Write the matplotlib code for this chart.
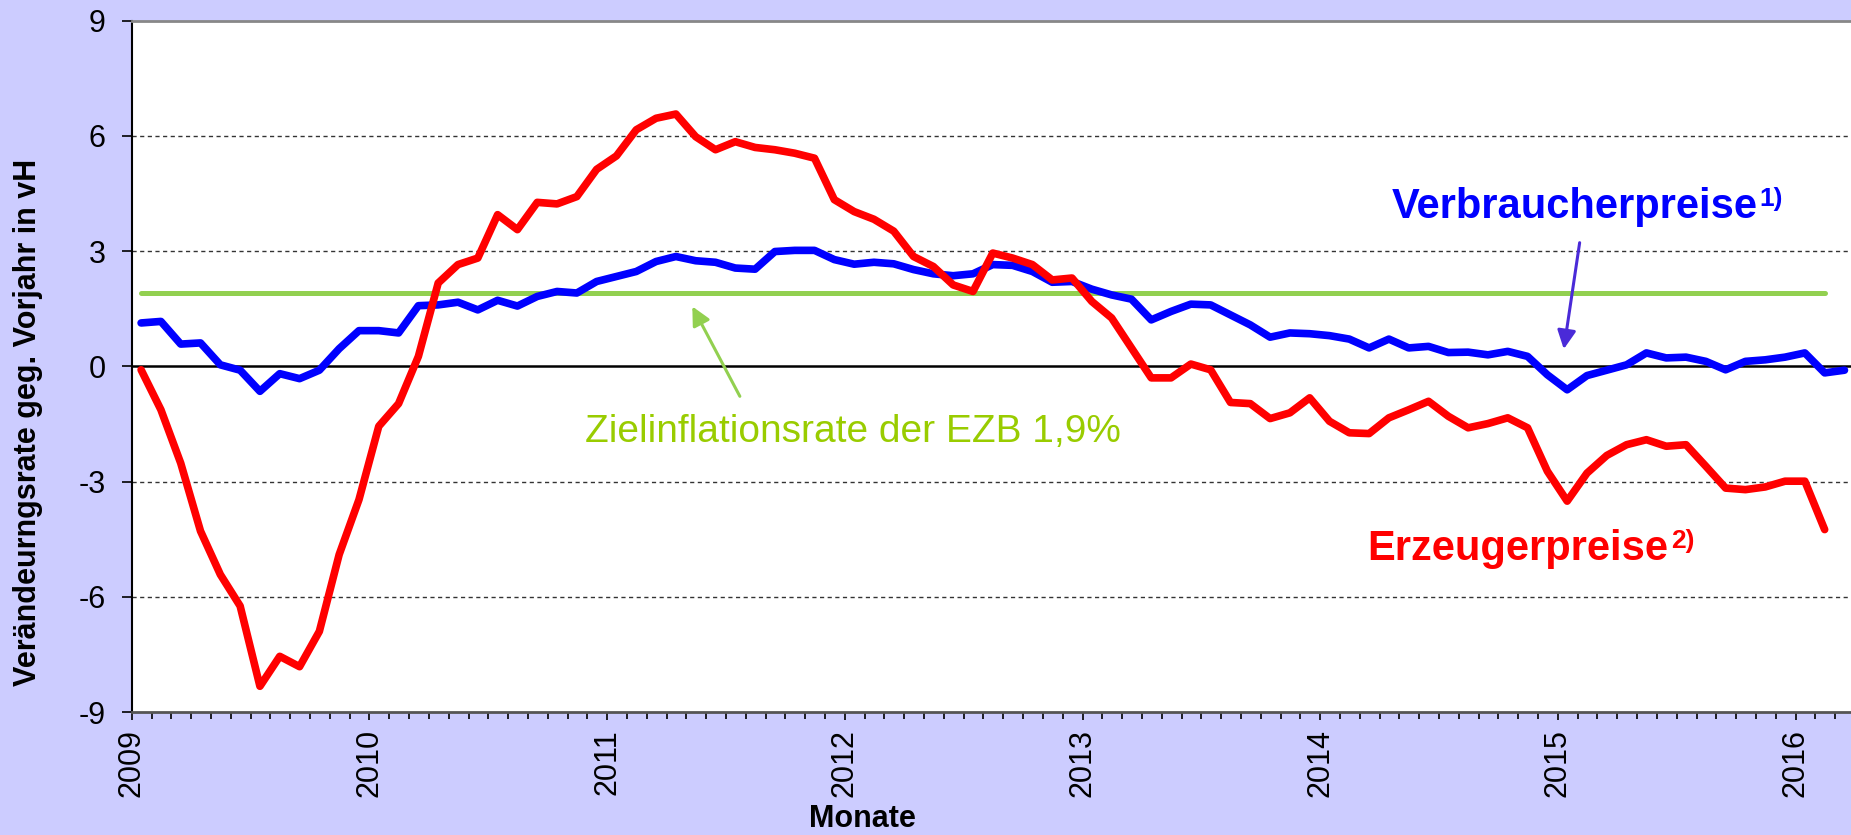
import numpy as np
import matplotlib
matplotlib.use("Agg")
import matplotlib.pyplot as plt
from matplotlib.ticker import FixedLocator, MultipleLocator

plt.rcParams['font.family'] = ['Liberation Sans', 'DejaVu Sans']
plt.rcParams['axes.unicode_minus'] = False

# monthly year-on-year rates, Jan 2009 onwards
verbraucherpreise = [
    1.13, 1.17, 0.58, 0.61, 0.04, -0.10, -0.65, -0.19, -0.32, -0.10, 0.46, 0.93,
    0.93, 0.87, 1.58, 1.60, 1.67, 1.47, 1.72, 1.57, 1.82, 1.95, 1.91, 2.21,
    2.34, 2.47, 2.73, 2.86, 2.75, 2.71, 2.56, 2.53, 2.99, 3.02, 3.02, 2.78,
    2.66, 2.71, 2.67, 2.52, 2.41, 2.36, 2.41, 2.65, 2.63, 2.47, 2.19, 2.21,
    2.01, 1.86, 1.75, 1.21, 1.43, 1.62, 1.60, 1.34, 1.08, 0.76, 0.87, 0.85,
    0.80, 0.71, 0.48, 0.71, 0.48, 0.52, 0.36, 0.37, 0.30, 0.39, 0.26, -0.22,
    -0.61, -0.24, -0.10, 0.04, 0.35, 0.22, 0.24, 0.13, -0.09, 0.13, 0.17, 0.24,
    0.35, -0.17, -0.10,
]
erzeugerpreise = [
    -0.09, -1.13, -2.52, -4.29, -5.42, -6.24, -8.33, -7.55, -7.82, -6.90, -4.90, -3.47,
    -1.56, -0.97, 0.26, 2.17, 2.65, 2.82, 3.95, 3.56, 4.27, 4.23, 4.42, 5.13,
    5.48, 6.16, 6.46, 6.57, 5.98, 5.64, 5.85, 5.70, 5.64, 5.55, 5.42, 4.34,
    4.03, 3.83, 3.52, 2.86, 2.60, 2.12, 1.95, 2.95, 2.82, 2.65, 2.25, 2.30,
    1.69, 1.26, 0.48, -0.30, -0.30, 0.06, -0.09, -0.94, -0.97, -1.36, -1.21, -0.82,
    -1.43, -1.73, -1.75, -1.34, -1.13, -0.91, -1.30, -1.60, -1.49, -1.34, -1.60, -2.73,
    -3.51, -2.78, -2.32, -2.04, -1.91, -2.08, -2.04, -2.60, -3.17, -3.21, -3.14, -2.99,
    -2.99, -4.25,
]
ziel_ezb = [1.9] * len(erzeugerpreise)

years = ['2009', '2010', '2011', '2012', '2013', '2014', '2015', '2016']
y_ticks = [-9, -6, -3, 0, 3, 6, 9]

x_vp = np.arange(len(verbraucherpreise)) + 0.47
x_ep = np.arange(len(erzeugerpreise)) + 0.47

fig = plt.figure(figsize=(18.51, 8.35), dpi=100, facecolor='#CCCCFF')
ax = fig.add_axes([0.0712, 0.1473, 0.9288, 0.8279])
ax.set_facecolor('white')

for y in [-6, -3, 3, 6]:
    ax.axhline(y, color='#333333', lw=1.0, ls=(0, (3, 2.5)), zorder=1)
ax.axhline(0, color='black', lw=1.8, zorder=1)

ax.plot(x_ep, ziel_ezb, color='#92D050', lw=3.6, solid_capstyle='round', zorder=2)
ax.plot(x_vp, verbraucherpreise, color='#0000FF', lw=5.5,
        solid_joinstyle='round', solid_capstyle='round', zorder=3)
ax.plot(x_ep, erzeugerpreise, color='#FF0000', lw=5.5,
        solid_joinstyle='round', solid_capstyle='round', zorder=4)

ax.set_xlim(0, 86.8)
ax.set_ylim(-9, 9)

ax.xaxis.set_major_locator(FixedLocator(np.arange(len(years)) * 12))
ax.xaxis.set_minor_locator(MultipleLocator(1))
ax.set_xticklabels(years, rotation=90, fontsize=22)
ax.set_yticks(y_ticks)
ax.set_yticklabels([str(v) for v in y_ticks], fontsize=22)
ax.tick_params(axis='y', direction='out', length=7, width=1.2, pad=12)
ax.tick_params(axis='x', which='major', direction='out', length=6, width=1.2, pad=6.5)
ax.tick_params(axis='x', which='minor', direction='out', length=5, width=1.2)

ax.spines['right'].set_visible(False)
ax.spines['top'].set_color('#888888')
ax.spines['top'].set_linewidth(2)
ax.spines['left'].set_color('black')
ax.spines['left'].set_linewidth(1.5)
ax.spines['bottom'].set_color('#555555')
ax.spines['bottom'].set_linewidth(2)

fig.text(0.0151, 0.4946, 'Verändeurngsrate geg. Vorjahr in vH', rotation=90,
         ha='center', va='center', fontsize=22, fontweight='bold')
fig.text(0.4657, 0.0195, 'Monate', ha='center', va='center',
         fontsize=22, fontweight='bold')

# series labels with superscript notes
vp_label = ax.text(63.6, 3.86, 'Verbraucherpreise', color='#0000FF', fontsize=30,
                   fontweight='bold', va='baseline', ha='left')
ax.annotate('1)', xy=(1, 1), xycoords=vp_label, xytext=(1.5, 0),
            textcoords='offset points', va='top', ha='left',
            fontsize=19, fontweight='bold', color='#0000FF')
ep_label = ax.text(62.4, -5.03, 'Erzeugerpreise', color='#FF0000', fontsize=30,
                   fontweight='bold', va='baseline', ha='left')
ax.annotate('2)', xy=(1, 1), xycoords=ep_label, xytext=(1.5, 0),
            textcoords='offset points', va='top', ha='left',
            fontsize=19, fontweight='bold', color='#FF0000')

ax.text(22.9, -1.96, 'Zielinflationsrate der EZB 1,9%', color='#99CC00',
        fontsize=28, va='baseline', ha='left')

# arrows
ax.annotate('', xy=(28.3, 1.56), xytext=(30.7, -0.78),
            arrowprops=dict(arrowstyle='-|>', color='#92D050', lw=2.2,
                            mutation_scale=28, shrinkA=0, shrinkB=0))
ax.annotate('', xy=(72.3, 0.45), xytext=(73.1, 3.22),
            arrowprops=dict(arrowstyle='-|>', color='#4A2AD8', lw=2.2,
                            mutation_scale=28, shrinkA=0, shrinkB=0))

fig.savefig('out.png', dpi=100, facecolor=fig.get_facecolor())
